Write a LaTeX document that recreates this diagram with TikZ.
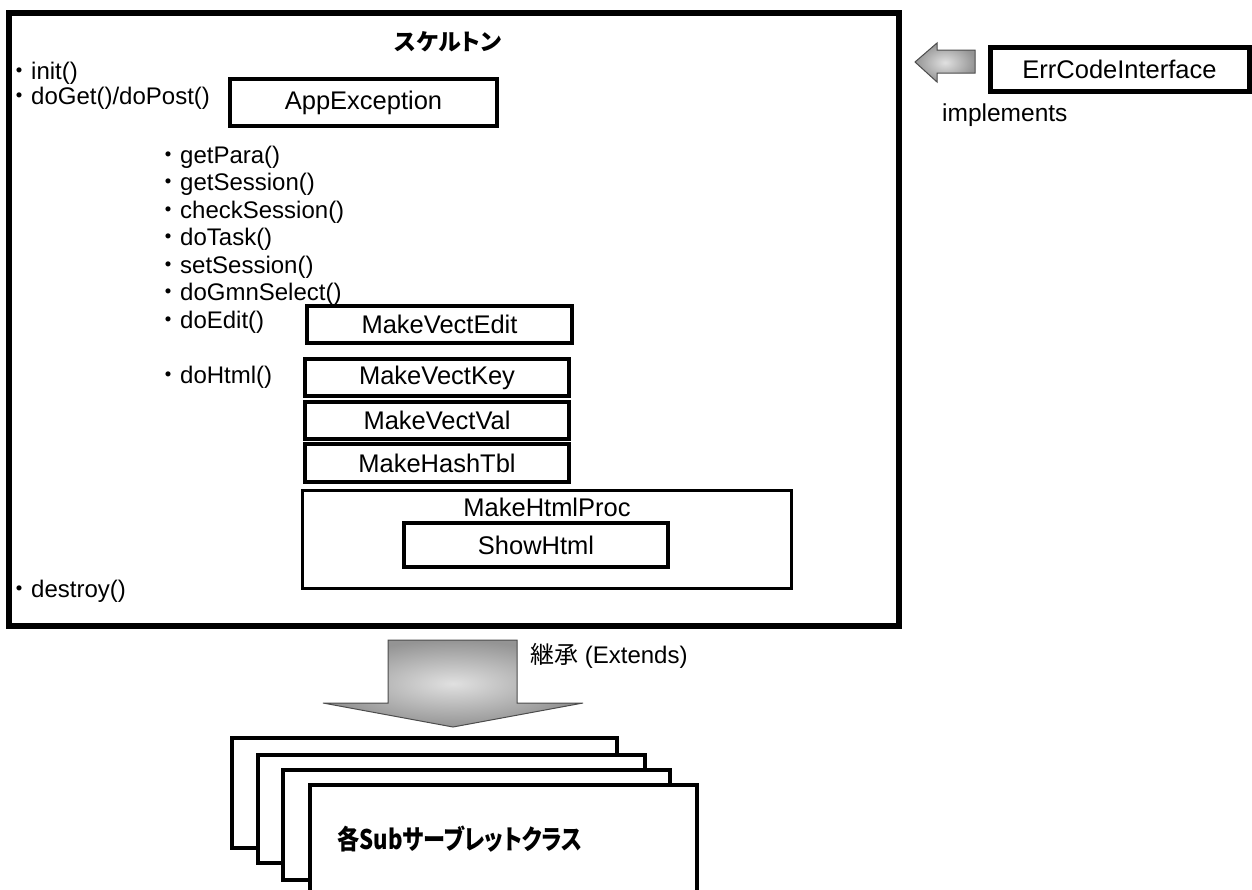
\documentclass[tikz,border=0pt]{standalone}
\usepackage{fontspec}
\setmainfont{Liberation Sans}
\newfontfamily\jp{Noto Sans CJK JP}
\newfontfamily\jpp[RawFeature=+palt]{Noto Sans CJK JP}
\newcommand\fsz[1]{\fontsize{#1}{#1}\selectfont}
\begin{document}
\begin{tikzpicture}[x=1pt,y=-1pt,
  box/.style={draw, line width=3.5pt, inner sep=0pt, font=\fsz{25.5}},
  lbl/.style={anchor=west, inner sep=0pt, font=\fsz{24}},
  stackbox/.style={draw, line width=4pt, fill=white},
  blockarrow/.style={draw=black!70, line width=1pt, inner color=black!12, outer color=black!42},
]
\useasboundingbox (0,0) rectangle (1252,889);

% skeleton frame
\node[draw, line width=6pt, inner sep=0pt, minimum width=890pt, minimum height=613.5pt] (skel) at (454,319.25) {};
\node[inner sep=0pt, font=\fsz{23}\jpp\bfseries] (title) at (448,42) {スケルトン};

\node[lbl] (init) at (7,73.5) {{\jp ・}init()};
\node[lbl] (doget) at (7,98.5) {{\jp ・}doGet()/doPost()};
\node[box, minimum width=267pt, minimum height=47pt] (appex) at (363.5,102.5) {AppException};

\node[lbl] (getpara) at (156,157) {{\jp ・}getPara()};
\node[lbl] (getsess) at (156,184.5) {{\jp ・}getSession()};
\node[lbl] (chksess) at (156,212) {{\jp ・}checkSession()};
\node[lbl] (dotask) at (156,239.5) {{\jp ・}doTask()};
\node[lbl] (setsess) at (156,267) {{\jp ・}setSession()};
\node[lbl] (dogmn) at (156,294.5) {{\jp ・}doGmnSelect()};
\node[lbl] (doedit) at (156,322) {{\jp ・}doEdit()};
\node[lbl] (dohtml) at (156,377) {{\jp ・}doHtml()};
\node[lbl] (destroy) at (7,591) {{\jp ・}destroy()};

\node[box, minimum width=265pt, minimum height=37pt] (mvedit) at (439.5,324.5) {MakeVectEdit};
\node[box, minimum width=264pt, minimum height=37pt] (mvkey) at (437,377.5) {MakeVectKey};
\node[box, minimum width=264pt, minimum height=37pt] (mvval) at (437,420.5) {MakeVectVal};
\node[box, minimum width=264pt, minimum height=38pt] (mhash) at (437,463) {MakeHashTbl};

\node[draw, line width=3pt, inner sep=0pt, minimum width=489pt, minimum height=98pt] (proc) at (546.5,539) {};
\node[inner sep=0pt, font=\fsz{25.5}] (proclbl) at (547,507) {MakeHtmlProc};
\node[box, minimum width=264pt, minimum height=44pt] (show) at (536,545) {ShowHtml};

% ErrCodeInterface
\node[draw, line width=5pt, inner sep=0pt, minimum width=259pt, minimum height=44pt, font=\fsz{25.5}] (err) at (1119.5,69) {ErrCodeInterface};
\node[lbl, font=\fsz{24.5}] (impl) at (942,115) {implements};
\draw[blockarrow] (915,62) -- (937,43) -- (937,50) -- (975,50) -- (975,73) -- (937,73) -- (937,82) -- cycle;

% extends arrow
\draw[blockarrow] (388,640) -- (517,640) -- (517,703) -- (583,703) -- (453,727) -- (323,703) -- (388,703) -- cycle;
\node[anchor=west, inner sep=0pt, font=\fsz{24}] (ext) at (530,656) {{\jp 継承} (Extends)};

% subclasses
\draw[stackbox] (232,738) rectangle (617,848);
\draw[stackbox] (258,755) rectangle (645,863);
\draw[stackbox] (283,770) rectangle (670,880);
\draw[stackbox] (310,785) rectangle (697,905);
\node[inner sep=0pt, font=\fsz{27}\jpp\bfseries] (sub) at (460,839) {\scalebox{0.82}[1]{各Subサーブレットクラス}};
\end{tikzpicture}
\end{document}
